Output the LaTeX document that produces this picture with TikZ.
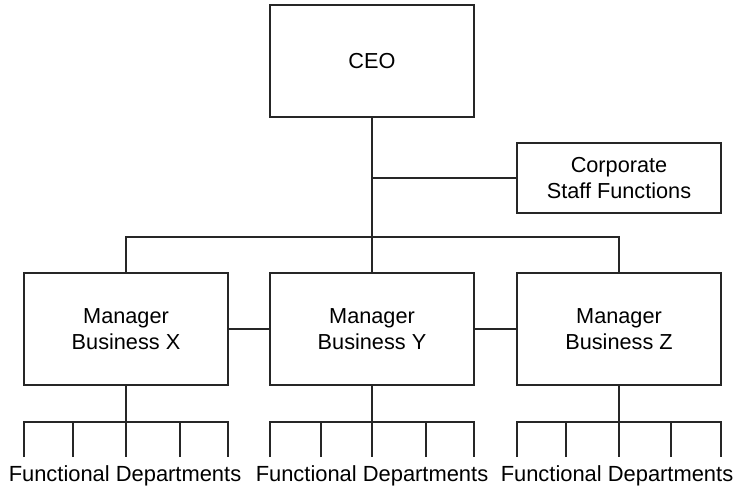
\documentclass[tikz,border=0pt]{standalone}
\usepackage{fontspec}
\setmainfont{Liberation Sans}
\usepackage{tikz}
\tikzset{
  lin/.style={black!85,line width=1.2pt},
  box/.style={draw=black!85,line width=1.2pt,align=center,inner sep=0pt,
    minimum width=204bp,minimum height=112bp,
    font=\fontsize{21.7bp}{26bp}\selectfont},
  lbl/.style={inner sep=0pt,font=\fontsize{21.9bp}{26bp}\selectfont},
}
\begin{document}
\begin{tikzpicture}[x=1bp,y=-1bp]
  \useasboundingbox (0,0) rectangle (734,495);
  % boxes
  \node[box] (ceo) at (372,61) {CEO};
  \node[box,minimum height=70bp] (staff) at (619,178) {Corporate\\Staff Functions};
  \node[box] (mgrx) at (126,329) {Manager\\Business X};
  \node[box] (mgry) at (372,329) {Manager\\Business Y};
  \node[box] (mgrz) at (619,329) {Manager\\Business Z};
  % top links
  \coordinate (bus) at (372,237);
  \draw[lin] (ceo) -- (mgry);
  \draw[lin] (ceo.south |- staff) -- (staff);
  \draw[lin] (mgrx) |- (bus) -| (mgrz);
  \draw[lin] (mgrx) -- (mgry);
  \draw[lin] (mgry) -- (mgrz);
  % departments
  \coordinate (dx) at (126,422);
  \coordinate (dy) at (372,422);
  \coordinate (dz) at (619,422);
  \coordinate (fx1) at (24,457);  \coordinate (fx2) at (73,457);
  \coordinate (fx4) at (180,457); \coordinate (fx5) at (228,457);
  \coordinate (fy1) at (270,457); \coordinate (fy2) at (321,457);
  \coordinate (fy4) at (426,457); \coordinate (fy5) at (474,457);
  \coordinate (fz1) at (517,457); \coordinate (fz2) at (566,457);
  \coordinate (fz4) at (671,457); \coordinate (fz5) at (721,457);
  \draw[lin] (mgrx) -- (dx) -- (dx |- fx1);
  \draw[lin] (fx1) -- (fx1 |- dx) -- (fx5 |- dx) -- (fx5)
    (fx2) -- (fx2 |- dx) (fx4) -- (fx4 |- dx);
  \draw[lin] (mgry) -- (dy) -- (dy |- fy1);
  \draw[lin] (fy1) -- (fy1 |- dy) -- (fy5 |- dy) -- (fy5)
    (fy2) -- (fy2 |- dy) (fy4) -- (fy4 |- dy);
  \draw[lin] (mgrz) -- (dz) -- (dz |- fz1);
  \draw[lin] (fz1) -- (fz1 |- dz) -- (fz5 |- dz) -- (fz5)
    (fz2) -- (fz2 |- dz) (fz4) -- (fz4 |- dz);
  \node[lbl] (depx) at (125,476) {Functional Departments};
  \node[lbl] (depy) at (372,476) {Functional Departments};
  \node[lbl] (depz) at (617,476) {Functional Departments};
\end{tikzpicture}
\end{document}
